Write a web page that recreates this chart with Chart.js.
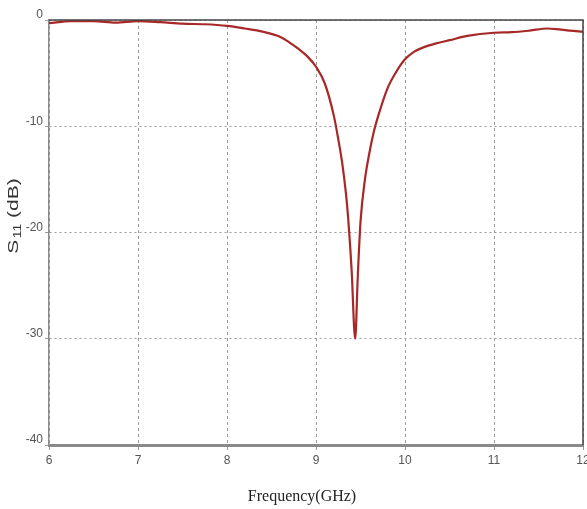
<!DOCTYPE html>
<html>
<head>
<meta charset="utf-8">
<script src="https://cdn.jsdelivr.net/npm/chart.js@4/dist/chart.umd.min.js"></script>
<style>
  html, body { margin: 0; padding: 0; background: #fff; }
  #wrap { width: 587px; height: 509px; position: relative; }
</style>
</head>
<body>
<div id="wrap"><canvas id="s11Chart"></canvas></div>
<script>
// S11 reflection curve
const freqGHz = [6.0, 6.25, 6.5, 6.75, 7.0, 7.25, 7.5, 7.75, 8.0, 8.2, 8.4, 8.6, 8.7, 8.8, 8.9,
                 9.0, 9.1, 9.2, 9.25, 9.3, 9.35, 9.4, 9.44, 9.47, 9.5, 9.55, 9.6, 9.65, 9.7,
                 9.8, 9.9, 10.0, 10.1, 10.2, 10.35, 10.5, 10.7, 11.0, 11.2, 11.4, 11.6, 11.7,
                 11.85, 12.0];
const s11dB = [-0.3, -0.1, -0.1, -0.25, -0.1, -0.2, -0.35, -0.4, -0.55, -0.8, -1.1, -1.6, -2.1,
               -2.7, -3.4, -4.4, -6.0, -9.0, -11.2, -13.8, -17.5, -23.5, -30, -24, -19, -15,
               -12.5, -10.5, -9.0, -6.5, -4.9, -3.7, -3.0, -2.6, -2.2, -1.9, -1.5, -1.2, -1.15,
               -1.0, -0.8, -0.85, -1.0, -1.1];
const xTicks = [6, 7, 8, 9, 10, 11, 12];
const yTicks = [0, -10, -20, -30, -40];

const tickFont = { family: "'Liberation Sans Narrow', 'Liberation Sans', Arial", size: 12 };

const titles = {
  id: 'titles',
  afterDraw(chart) {
    const ctx = chart.ctx, a = chart.chartArea;
    ctx.save();
    // top and right frame
    ctx.strokeStyle = '#444';
    ctx.lineWidth = 1.5;
    ctx.beginPath();
    ctx.moveTo(a.left, a.top);
    ctx.lineTo(a.right, a.top);
    ctx.lineTo(a.right, a.bottom);
    ctx.stroke();
    // x title
    ctx.fillStyle = '#222';
    ctx.font = "16px 'Liberation Serif', 'Times New Roman', serif";
    ctx.textAlign = 'center';
    ctx.textBaseline = 'middle';
    ctx.fillText('Frequency(GHz)', 302, 497);
    // y title with subscript, stretched along the axis like the original
    ctx.translate(13, 216);
    ctx.rotate(-Math.PI / 2);
    ctx.scale(1.4, 1);
    ctx.textAlign = 'left';
    ctx.textBaseline = 'alphabetic';
    ctx.fillStyle = '#333';
    const big = "15px 'Liberation Sans', Arial, sans-serif";
    const small = "10px 'Liberation Sans', Arial, sans-serif";
    ctx.font = big;
    const w1 = ctx.measureText('S').width;
    ctx.font = small;
    const w2 = ctx.measureText('11').width;
    ctx.font = big;
    const w3 = ctx.measureText(' (dB)').width;
    let x = -(w1 + w2 + w3 + 1) / 2;
    ctx.fillText('S', x, 5);
    x += w1;
    ctx.font = small;
    ctx.fillText('11', x + 1, 8);
    x += w2 + 1;
    ctx.font = big;
    ctx.fillText(' (dB)', x, 5);
    ctx.restore();
  }
};

new Chart(document.getElementById('s11Chart'), {
  type: 'line',
  data: {
    datasets: [{
      data: freqGHz.map((f, i) => ({ x: f, y: s11dB[i] })),
      borderColor: '#a82828',
      borderWidth: 2.2,
      pointRadius: 0,
      cubicInterpolationMode: 'monotone',
      fill: false
    }]
  },
  options: {
    responsive: true,
    maintainAspectRatio: false,
    animation: false,
    layout: { padding: { top: 20, right: 4, left: 0, bottom: 0 } },
    plugins: { legend: { display: false }, tooltip: { enabled: false } },
    scales: {
      x: {
        type: 'linear',
        min: 6, max: 12,
        afterBuildTicks: s => { s.ticks = xTicks.map(v => ({ value: v })); },
        afterFit: s => { s.height = 64; s.paddingLeft = 0; s.paddingRight = 0; },
        border: { color: '#8a8a8a', width: 3, dash: [3, 3] },
        grid: {
          color: '#9a9a9a', lineWidth: 1,
          tickLength: 6, tickColor: '#9a9a9a', tickBorderDash: [3, 3]
        },
        ticks: { color: '#555', font: tickFont, padding: 2, maxRotation: 0 }
      },
      y: {
        min: -40, max: 0,
        afterBuildTicks: s => { s.ticks = yTicks.map(v => ({ value: v })); },
        afterFit: s => { s.width = 49; s.paddingTop = 0; s.paddingBottom = 0; },
        border: { color: '#8a8a8a', width: 1.5, dash: [2, 3] },
        grid: {
          color: '#9a9a9a', lineWidth: 1,
          tickLength: 4, tickColor: '#9a9a9a', tickBorderDash: []
        },
        ticks: { color: '#555', font: tickFont, padding: 2, labelOffset: -5 }
      }
    }
  },
  plugins: [titles]
});
</script>
</body>
</html>
